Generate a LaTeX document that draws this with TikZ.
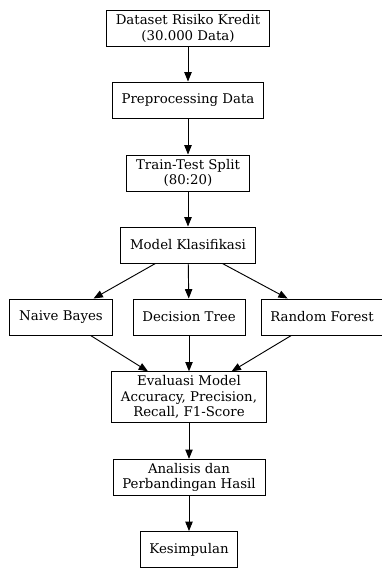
\documentclass[tikz,border=0pt]{standalone}
\usepackage{fontspec}
\setmainfont{DejaVu Serif}
\usepackage{tikz}
\usetikzlibrary{shapes,positioning,arrows.meta}

\begin{document}
\begin{tikzpicture}[x=0.75pt,y=-0.75pt,
    box/.style={rectangle,draw,line width=0.7pt,align=center,inner xsep=7pt,inner ysep=3pt,
      minimum height=27pt,font=\fontsize{10}{11.4}\selectfont},
    flow/.style={line width=0.7pt,-{Triangle[length=7pt,width=5.5pt]}}]
    \useasboundingbox (0,0) rectangle (382,568);
    \node[box] (data) at (188,28.5) {Dataset Risiko Kredit\\(30.000 Data)};
    \node[box] (prep) at (188,100) {Preprocessing Data};
    \node[box] (split) at (188,173) {Train-Test Split\\(80:20)};
    \node[box] (model) at (188,245) {Model Klasifikasi};
    \node[box] (nb) at (61,317) {Naive Bayes};
    \node[box] (dt) at (189,317) {Decision Tree};
    \node[box] (rf) at (322,317) {Random Forest};
    \node[box] (eval) at (189,397) {Evaluasi Model\\Accuracy, Precision,\\Recall, F1-Score};
    \node[box] (anal) at (189,477.5) {Analisis dan\\Perbandingan Hasil};
    \node[box] (kes) at (189,549.5) {Kesimpulan};
    \foreach \a/\b in {data/prep,prep/split,split/model,model/nb,model/dt,model/rf,nb/eval,dt/eval,rf/eval,eval/anal,anal/kes}{
      \draw[flow] (\a) -- (\b);
    }
  \end{tikzpicture}
\end{document}
